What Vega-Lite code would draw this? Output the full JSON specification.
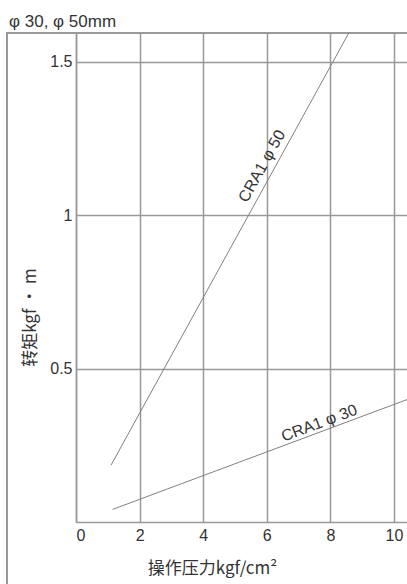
{
  "$schema": "https://vega.github.io/schema/vega-lite/v6.json",
  "autosize": {"type": "none"},
  "padding": {"left": 76, "top": 33, "right": 0, "bottom": 62},
  "width": 331,
  "height": 489,
  "background": "white",
  "config": {
    "view": {"stroke": null},
    "font": "Liberation Sans, Noto Sans CJK SC",
    "axis": {"labelFont": "Liberation Sans", "titleFont": "Noto Sans CJK SC, Liberation Sans"}
  },
  "title": {
    "text": "φ 30, φ 50mm",
    "anchor": "start",
    "frame": "group",
    "dx": -67,
    "dy": 20,
    "offset": 8,
    "baseline": "alphabetic",
    "fontSize": 17,
    "fontWeight": "normal",
    "color": "#333",
    "font": "Liberation Sans"
  },
  "datasets": {
    "lines": [
      {"series": "CRA1 φ 50", "pressure": 1.1, "torque": 0.185},
      {"series": "CRA1 φ 50", "pressure": 8.6, "torque": 1.598},
      {"series": "CRA1 φ 30", "pressure": 1.15, "torque": 0.041},
      {"series": "CRA1 φ 30", "pressure": 10.41, "torque": 0.399}
    ],
    "labels": [
      {"series": "CRA1 φ 50", "pressure": 5.85, "torque": 1.16},
      {"series": "CRA1 φ 30", "pressure": 7.65, "torque": 0.322}
    ]
  },
  "layer": [
    {
      "data": {"values": [{}]},
      "mark": {"type": "rect", "clip": false, "fill": null, "stroke": "#999", "strokeWidth": 2},
      "encoding": {
        "x": {"datum": -2.17, "type": "quantitative", "scale": {"domain": [0, 10.41], "nice": false, "zero": false},
          "axis": {
            "values": [0, 2, 4, 6, 8, 10],
            "title": "操作压力kgf/cm²",
            "grid": true, "gridColor": "#999", "gridWidth": 1.5, "gridOpacity": 1,
            "domainColor": "#999", "domainWidth": 1.5,
            "ticks": false,
            "labelFontSize": 16, "labelColor": "#333", "labelPadding": 5,
            "titleFontSize": 17, "titleFontWeight": "normal", "titleColor": "#333",
            "titleX": 136, "titleY": 46, "titleBaseline": "middle", "titleAnchor": null
          }},
        "x2": {"datum": 11},
        "y": {"datum": 1.594, "type": "quantitative", "scale": {"domain": [0, 1.594], "nice": false, "zero": false},
          "axis": {
            "values": [0.5, 1, 1.5],
            "format": "~g",
            "title": "转矩kgf · m",
            "grid": true, "gridColor": "#999", "gridWidth": 1.5, "gridOpacity": 1,
            "domainColor": "#999", "domainWidth": 1.5,
            "ticks": false,
            "labelFontSize": 16, "labelColor": "#333", "labelPadding": 4,
            "titleFontSize": 17, "titleFontWeight": "normal", "titleColor": "#333",
            "titleX": -46, "titleY": 284, "titleBaseline": "middle", "titleAlign": "center", "titleAngle": -90
          }},
        "y2": {"datum": -0.4}
      }
    },
    {
      "data": {"name": "lines"},
      "mark": {"type": "line", "clip": true, "color": "#808080", "strokeWidth": 1},
      "encoding": {
        "x": {"field": "pressure", "type": "quantitative"},
        "y": {"field": "torque", "type": "quantitative"},
        "detail": {"field": "series"}
      }
    },
    {
      "data": {"name": "labels"},
      "transform": [{"filter": "datum.series === 'CRA1 φ 50'"}],
      "mark": {"type": "text", "angle": -61, "fontSize": 16, "color": "#333", "align": "center", "baseline": "middle", "font": "Liberation Sans"},
      "encoding": {
        "x": {"field": "pressure", "type": "quantitative"},
        "y": {"field": "torque", "type": "quantitative"},
        "text": {"field": "series"}
      }
    },
    {
      "data": {"name": "labels"},
      "transform": [{"filter": "datum.series === 'CRA1 φ 30'"}],
      "mark": {"type": "text", "angle": -20.5, "fontSize": 16, "color": "#333", "align": "center", "baseline": "middle", "font": "Liberation Sans"},
      "encoding": {
        "x": {"field": "pressure", "type": "quantitative"},
        "y": {"field": "torque", "type": "quantitative"},
        "text": {"field": "series"}
      }
    }
  ]
}
